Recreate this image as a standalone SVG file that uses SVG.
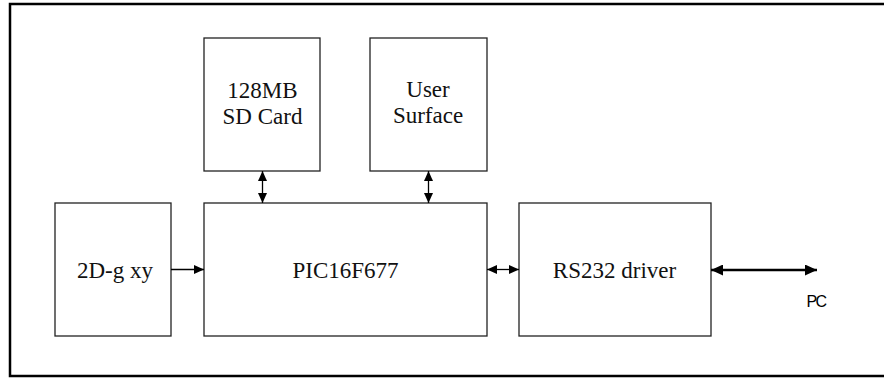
<svg xmlns="http://www.w3.org/2000/svg" width="884" height="378" viewBox="0 0 884 378">
<style>
.box{fill:#fff;stroke:#222;stroke-width:1.3}
.lbl{font-family:"Liberation Serif","Times New Roman",serif;font-size:23px;fill:#111;text-anchor:middle}
.conn{stroke:#000;stroke-width:1.3;fill:none}
.thick{stroke:#000;stroke-width:2.6;fill:none}
</style>
<defs>
<marker id="ah" markerUnits="userSpaceOnUse" markerWidth="10" markerHeight="9" refX="10" refY="4.5" orient="auto-start-reverse">
<path d="M0,0 L10,4.5 L0,9 Z" fill="#000"/>
</marker>
<marker id="ahb" markerUnits="userSpaceOnUse" markerWidth="12" markerHeight="11" refX="12" refY="5.5" orient="auto-start-reverse">
<path d="M0,0 L12,5.5 L0,11 Z" fill="#000"/>
</marker>
</defs>
<rect id="frame" x="10" y="4" width="885" height="372" fill="none" stroke="#000" stroke-width="2.5"/>
<g id="sdcard">
<rect class="box" x="204" y="38" width="116" height="133"/>
<text class="lbl" x="262.5" y="98">128MB</text>
<text class="lbl" x="262.5" y="124">SD Card</text>
</g>
<g id="usersurface">
<rect class="box" x="370" y="38" width="117" height="133"/>
<text class="lbl" x="428" y="97">User</text>
<text class="lbl" x="428" y="123">Surface</text>
</g>
<g id="gxy">
<rect class="box" x="55" y="203" width="116" height="133"/>
<text class="lbl" x="115" y="278">2D-g xy</text>
</g>
<g id="pic">
<rect class="box" x="204" y="203" width="283" height="133"/>
<text class="lbl" x="345.5" y="278">PIC16F677</text>
</g>
<g id="rs232">
<rect class="box" x="519" y="203" width="192" height="133"/>
<text class="lbl" x="614.5" y="278">RS232 driver</text>
</g>
<g id="pc">
<text x="816" y="306.5" font-family="Liberation Sans, Arial, sans-serif" font-size="16" letter-spacing="-1.5" text-anchor="middle" fill="#000">PC</text>
</g>
<g id="connectors">
<line class="conn" x1="262.5" y1="171" x2="262.5" y2="203" marker-start="url(#ah)" marker-end="url(#ah)"/>
<line class="conn" x1="428.5" y1="171" x2="428.5" y2="203" marker-start="url(#ah)" marker-end="url(#ah)"/>
<line class="conn" x1="171" y1="269.5" x2="204" y2="269.5" marker-end="url(#ah)"/>
<line class="conn" x1="487" y1="269.5" x2="519" y2="269.5" marker-start="url(#ah)" marker-end="url(#ah)"/>
<line class="thick" x1="711" y1="270" x2="817" y2="270" marker-start="url(#ahb)" marker-end="url(#ahb)"/>
</g>
</svg>
